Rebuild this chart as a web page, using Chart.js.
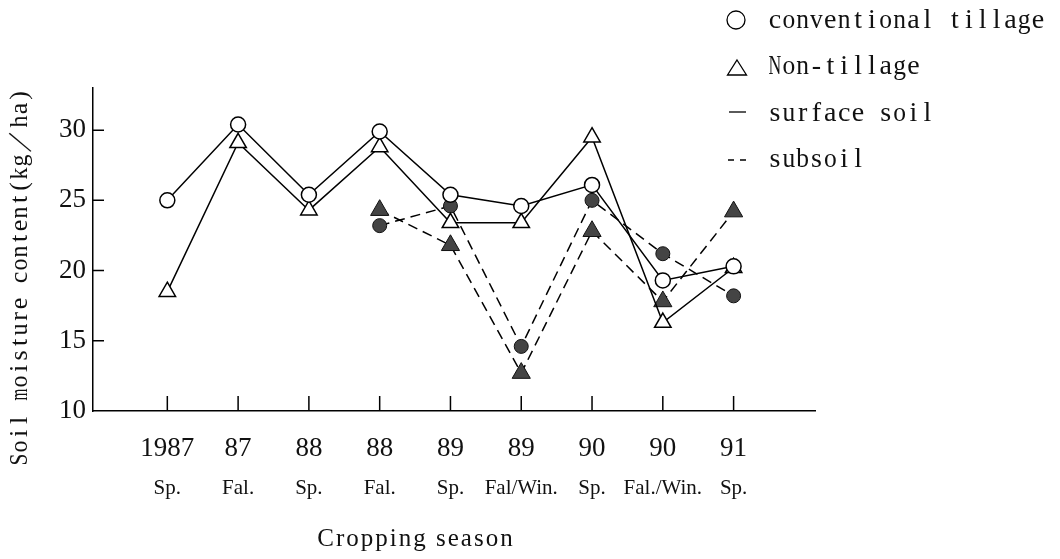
<!DOCTYPE html>
<html>
<head>
<meta charset="utf-8">
<title>Soil moisture content by cropping season</title>
<script src="https://cdn.jsdelivr.net/npm/chart.js@4.4.0/dist/chart.umd.min.js"></script>
<style>
  html, body { margin: 0; padding: 0; background: #fff; }
</style>
</head>
<body>
<canvas id="moistureChart" width="1060" height="559"></canvas>
<script>
/* ===================== DONNEES ===================== */
const years = ['1987', '87', '88', '88', '89', '89', '90', '90', '91'];
const seasons = ['Sp.', 'Fal.', 'Sp.', 'Fal.', 'Sp.', 'Fal/Win.', 'Sp.', 'Fal./Win.', 'Sp.'];
const yTicks = [10, 15, 20, 25, 30];

// surface soil (trait plein)
const convSurface = [25.0, 30.4, 25.4, 29.9, 25.4, 24.6, 26.1, 19.3, 20.3];
const nonSurface  = [18.5, 29.1, 24.3, 28.8, 23.4, 23.4, 29.5, 16.3, 20.2];
// subsoil (pointilles), pas de mesure avant 88 Fal.
const convSubsoil = [null, null, null, 23.2, 24.6, 14.6, 25.0, 21.2, 18.2];
const nonSubsoil  = [null, null, null, 24.3, 21.8, 12.7, 22.8, 17.8, 24.2];

const toPoints = arr => arr.map((v, i) => ({ x: i, y: v }));
const indexTicks = scale => { scale.ticks = years.map((_, i) => ({ value: i })); };

/* petit texte "mincho" a chasse fixe */
function drawMono(ctx, text, x, y, cell) {
  let cx = x;
  for (const ch of text) {
    const w = ch.charCodeAt(0) > 0xff ? cell * 2 : cell;
    const m = ctx.measureText(ch).width;
    ctx.save();
    ctx.translate(cx + w / 2, y);
    if (m > w * 0.92) ctx.scale(w * 0.92 / m, 1);
    ctx.fillText(ch, 0, 0);
    ctx.restore();
    cx += w;
  }
}

const extras = {
  id: 'extras',
  afterDraw(chart) {
    const ctx = chart.ctx;
    const xs = chart.scales.x, ys = chart.scales.y;
    const area = chart.chartArea;
    ctx.save();
    ctx.strokeStyle = '#000';
    ctx.lineWidth = 1.5;

    // petites graduations vers l'interieur
    ctx.beginPath();
    xs.ticks.forEach(t => {
      const px = xs.getPixelForValue(t.value);
      ctx.moveTo(px, area.bottom);
      ctx.lineTo(px, area.bottom - 15);
    });
    ys.ticks.forEach(t => {
      if (t.value === ys.min) return;
      const py = ys.getPixelForValue(t.value);
      ctx.moveTo(area.left, py);
      ctx.lineTo(area.left + 11, py);
    });
    ctx.stroke();

    ctx.fillStyle = '#111';
    ctx.textAlign = 'center';
    ctx.textBaseline = 'middle';

    // titre axe Y
    ctx.font = '26px "Liberation Serif"';
    ctx.save();
    ctx.translate(20, 466);
    ctx.rotate(-Math.PI / 2);
    drawMono(ctx, 'Soil moisture content(kg／ha)', 0, 0, 13);
    ctx.restore();

    // titre axe X
    ctx.font = '25px "Liberation Serif"';
    ctx.letterSpacing = '2px';
    ctx.fillText('Cropping season', 416, 539);
    ctx.letterSpacing = '0px';

    // legende
    ctx.lineWidth = 1.3;
    ctx.beginPath();
    ctx.arc(736, 20, 9, 0, Math.PI * 2);
    ctx.stroke();
    ctx.beginPath();
    ctx.moveTo(737, 60);
    ctx.lineTo(746.5, 75);
    ctx.lineTo(727.5, 75);
    ctx.closePath();
    ctx.stroke();
    ctx.beginPath();
    ctx.moveTo(729, 112);
    ctx.lineTo(746, 112);
    ctx.stroke();
    ctx.beginPath();
    ctx.moveTo(728, 160); ctx.lineTo(734, 160);
    ctx.moveTo(740, 160); ctx.lineTo(746, 160);
    ctx.stroke();

    ctx.font = '28px "Liberation Serif"';
    drawMono(ctx, 'conventional tillage', 768, 21, 13.85);
    drawMono(ctx, 'Non-tillage', 768, 67, 13.85);
    drawMono(ctx, 'surface soil', 768, 114, 13.85);
    drawMono(ctx, 'subsoil', 768, 160, 13.85);
    ctx.restore();
  }
};

/* ===================== GRAPHIQUE ===================== */
new Chart(document.getElementById('moistureChart'), {
  type: 'line',
  data: {
    datasets: [
      {
        label: 'conventional tillage - surface soil',
        data: toPoints(convSurface),
        borderColor: '#000',
        borderWidth: 1.5,
        pointStyle: 'circle',
        pointRadius: 7.5,
        pointBackgroundColor: '#fff',
        pointBorderColor: '#000',
        pointBorderWidth: 1.5
      },
      {
        label: 'Non-tillage - surface soil',
        data: toPoints(nonSurface),
        borderColor: '#000',
        borderWidth: 1.5,
        pointStyle: 'triangle',
        pointRadius: 9.5,
        pointBackgroundColor: '#fff',
        pointBorderColor: '#000',
        pointBorderWidth: 1.5
      },
      {
        label: 'conventional tillage - subsoil',
        data: toPoints(convSubsoil),
        borderColor: '#000',
        borderWidth: 1.5,
        borderDash: [10, 6],
        pointStyle: 'circle',
        pointRadius: 7,
        pointBackgroundColor: '#444',
        pointBorderColor: '#111',
        pointBorderWidth: 1
      },
      {
        label: 'Non-tillage - subsoil',
        data: toPoints(nonSubsoil),
        borderColor: '#000',
        borderWidth: 1.5,
        borderDash: [10, 6],
        pointStyle: 'triangle',
        pointRadius: 10.5,
        pointBackgroundColor: '#444',
        pointBorderColor: '#111',
        pointBorderWidth: 1
      }
    ]
  },
  options: {
    responsive: false,
    animation: false,
    layout: { padding: { top: 88, right: 245, left: 0, bottom: 0 } },
    plugins: {
      legend: { display: false },
      tooltip: { enabled: false }
    },
    scales: {
      x: {
        type: 'linear',
        position: 'bottom',
        min: -1.05,
        max: 9.15,
        afterBuildTicks: indexTicks,
        afterFit: s => { s.height = 60; },
        grid: { display: false, drawTicks: false },
        border: { display: true, color: '#000', width: 1.5 },
        ticks: {
          autoSkip: false,
          maxRotation: 0,
          padding: 22,
          color: '#111',
          font: { family: 'Liberation Serif', size: 27 },
          callback: v => years[v]
        }
      },
      x2: {
        type: 'linear',
        position: 'bottom',
        min: -1.05,
        max: 9.15,
        afterBuildTicks: indexTicks,
        afterFit: s => { s.height = 88; },
        grid: { display: false, drawTicks: false },
        border: { display: false },
        ticks: {
          autoSkip: false,
          maxRotation: 0,
          padding: 5,
          color: '#111',
          font: { family: 'Liberation Serif', size: 21 },
          callback: v => seasons[v]
        }
      },
      y: {
        min: 10,
        max: 33,
        afterBuildTicks: s => { s.ticks = yTicks.map(v => ({ value: v })); },
        afterFit: s => { s.width = 93; },
        grid: { display: false, drawTicks: false },
        border: { display: true, color: '#000', width: 1.5 },
        ticks: {
          padding: 7,
          color: '#111',
          font: { family: 'Liberation Serif', size: 27 }
        }
      }
    }
  },
  plugins: [extras]
});
</script>
</body>
</html>
